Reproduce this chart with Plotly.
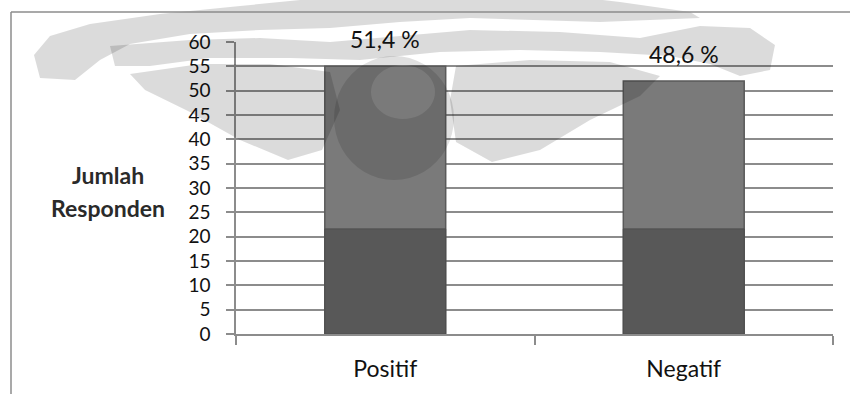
import math
import plotly.graph_objects as go

# ---- data ----
categories = ["Positif", "Negatif"]
responden = [55, 52]
y_ticks = list(range(0, 61, 5))
y_title_lines = ["Jumlah", "Responden"]

total = sum(responden)
pct_labels = [f"{v / total * 100:.1f}".replace(".", ",") + " %" for v in responden]

# ---- page geometry (pixels) ----
W, H = 850, 394
ML, MR, MT, MB = 236, 17, 42, 60
PW, PH = W - ML - MR, H - MT - MB


def px(x):
    return (x - ML) / PW


def py(y):
    return (H - MB - y) / PH


def path(points, close=True):
    s = "M " + " L ".join(f"{px(x):.4f},{py(y):.4f}" for x, y in points)
    return s + (" Z" if close else "")


def ellipse(cx, cy, rx, ry, n=48):
    return [(cx + rx * math.cos(2 * math.pi * k / n), cy + ry * math.sin(2 * math.pi * k / n))
            for k in range(n)]


GRID = "#8c8c8c"
FONT = "Lato, 'Open Sans', sans-serif"
BAR_W = 0.405
LOWER_BAND = 21.6

fig = go.Figure()
fig.add_bar(
    x=categories, y=responden, width=BAR_W,
    marker=dict(color="#7a7a7a", line=dict(color="#5a5a5a", width=1.5)),
)
fig.add_bar(
    x=categories, y=[min(v, LOWER_BAND) for v in responden], width=BAR_W,
    marker=dict(color="#585858", line=dict(color="#4e4e4e", width=1)),
    hoverinfo="skip",
)

annotations = []
for c, v, t in zip(categories, responden, pct_labels):
    annotations.append(dict(
        x=c, y=v, xref="x", yref="y", text=t, showarrow=False,
        yanchor="bottom", yshift=11, font=dict(size=23, color="#111", family=FONT),
    ))
for line, ypix in zip(y_title_lines, [175, 208]):
    annotations.append(dict(
        x=px(108), y=py(ypix), xref="paper", yref="paper", text=f"<b>{line}</b>",
        showarrow=False, xanchor="center", yanchor="middle",
        font=dict(size=23, color="#2a2a2a", family=FONT),
    ))

# faint background emblem drawn over the chart
shade = "rgba(0,0,0,0.14)"
emblem = [
    # top sweep with curled left end
    [(40, 78), (34, 55), (50, 36), (90, 24), (160, 14), (240, 6), (300, 0), (300, -5),
     (560, -5), (620, 2), (690, 12), (700, 18), (600, 22), (470, 18), (400, 22), (330, 28),
     (260, 30), (190, 34), (130, 44), (100, 60), (75, 80)],
    # second sweep running to the right curl
    [(110, 46), (190, 40), (260, 38), (330, 42), (400, 36), (470, 30), (560, 32), (640, 38),
     (700, 26), (750, 28), (775, 45), (770, 70), (740, 76), (710, 64), (670, 56), (600, 52),
     (520, 50), (440, 52), (360, 60), (290, 58), (210, 58), (150, 66), (115, 66)],
    # left diagonal wing
    [(130, 74), (200, 64), (270, 64), (330, 72), (340, 110), (322, 150), (288, 160),
     (240, 140), (190, 112), (145, 90)],
    # right diagonal wing
    [(456, 66), (530, 60), (610, 62), (660, 76), (640, 96), (590, 120), (540, 150),
     (492, 162), (456, 142), (450, 100)],
]
shapes = [dict(type="path", xref="paper", yref="paper", path=path(p), fillcolor=shade,
               line=dict(width=0), layer="above") for p in emblem]
# centre rings of the emblem
ring = path(ellipse(394, 118, 60, 62)) + " " + path(ellipse(403, 92, 32, 27))
shapes.append(dict(type="path", xref="paper", yref="paper", path=ring, fillcolor="rgba(0,0,0,0.12)",
                   fillrule="evenodd", line=dict(width=0), layer="above"))

# outer chart frame
shapes.append(dict(type="line", xref="paper", yref="paper", x0=px(11), y0=py(12), x1=px(860), y1=py(12),
                   line=dict(color=GRID, width=1.5)))
shapes.append(dict(type="line", xref="paper", yref="paper", x0=px(11), y0=py(12), x1=px(11), y1=py(400),
                   line=dict(color=GRID, width=1.5)))

fig.update_layout(
    width=W, height=H, margin=dict(l=ML, r=MR, t=MT, b=MB),
    paper_bgcolor="white", plot_bgcolor="white",
    barmode="overlay", showlegend=False,
    annotations=annotations, shapes=shapes,
    font=dict(family=FONT, color="#111"),
    yaxis=dict(
        range=[0, 60], tickvals=y_ticks, showgrid=True, gridcolor=GRID, gridwidth=1.5,
        showline=True, linecolor=GRID, linewidth=1.5, ticks="outside", ticklen=8,
        tickcolor=GRID, tickwidth=1.5, tickfont=dict(size=19, color="#111"),
        ticklabelstandoff=12, zeroline=False, fixedrange=True,
    ),
    xaxis=dict(
        showline=True, linecolor=GRID, linewidth=1.5, ticks="outside", ticklen=9,
        tickson="boundaries", tickcolor=GRID, tickwidth=1.5,
        tickfont=dict(size=23, color="#111"), ticklabelstandoff=14, fixedrange=True,
    ),
)

fig.write_html("out.html")
